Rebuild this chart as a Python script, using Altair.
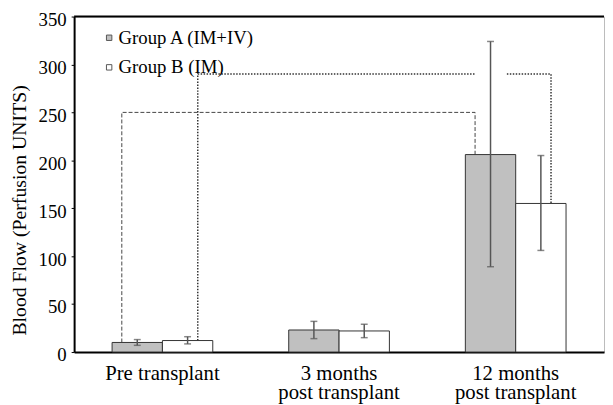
import altair as alt
import pandas as pd

categories = ["Pre transplant", "3 months|post transplant", "12 months|post transplant"]
groups = ["Group A (IM+IV)", "Group B (IM)"]
group_a_mean = [10, 23, 206]
group_a_lo = [7, 14, 89]
group_a_hi = [13, 32, 324]
group_b_mean = [12, 22, 155]
group_b_lo = [8.5, 15, 106]
group_b_hi = [16, 29, 205]

# bracket annotations (x in category units, 0..3 across the plot; y in data units)
dash_x = [0.27, 0.27, 2.27, 2.27]
dash_y = [10, 250, 250, 206]
dot_seg = [1, 1, 1, 2, 2, 2]
dot_x = [0.70, 0.70, 2.27, 2.45, 2.70, 2.70]
dot_y = [12, 290, 290, 290, 290, 155]

rows = []
for i, c in enumerate(categories):
    rows.append(dict(cat=c, group=groups[0], mean=group_a_mean[i], lo=group_a_lo[i], hi=group_a_hi[i]))
    rows.append(dict(cat=c, group=groups[1], mean=group_b_mean[i], lo=group_b_lo[i], hi=group_b_hi[i]))
df = pd.DataFrame(rows)

dash_df = pd.DataFrame(dict(x=dash_x, y=dash_y, o=list(range(len(dash_x)))))
dot_df = pd.DataFrame(dict(x=dot_x, y=dot_y, seg=dot_seg, o=list(range(len(dot_x)))))

FONT = "Liberation Serif"

xenc = alt.X("cat:N", sort=categories, title=None,
             scale=alt.Scale(paddingInner=0.43, paddingOuter=0.215),
             axis=alt.Axis(labelExpr="split(datum.label, '|')", labelAngle=0,
                           labelFontSize=21, labelColor="black",
                           labelPadding=11, labelLineHeight=19, ticks=False,
                           domainColor="black", domainWidth=2))
xoff = alt.XOffset("group:N", sort=groups)
yscale = alt.Scale(domain=[0, 350], nice=False)

base = alt.Chart(df)

bars = base.mark_bar(stroke="#333", strokeWidth=1).encode(
    x=xenc, xOffset=xoff,
    y=alt.Y("mean:Q", scale=yscale, title="Blood Flow (Perfusion UNITS)",
            axis=alt.Axis(values=[0, 50, 100, 150, 200, 250, 300, 350], grid=False,
                          labelFontSize=19, labelColor="black",
                          labelPadding=5, labelOffset=3,
                          titleFontSize=20, titleFontWeight="normal",
                          titleColor="black", titleX=-55, titleY=196,
                          titleBaseline="middle", titleAlign="center", titleAngle=270,
                          tickSize=3, tickColor="black", domainColor="black", domainWidth=2)),
    color=alt.Color("group:N", scale=alt.Scale(domain=groups, range=["#c0c0c0", "white"]),
                    legend=alt.Legend(title=None, orient="none", legendX=26, legendY=12,
                                      symbolType="square", symbolSize=30,
                                      symbolStrokeColor="#555", symbolStrokeWidth=1,
                                      labelFontSize=19, labelColor="black",
                                      rowPadding=10, labelOffset=0, padding=0)),
)

err = base.mark_rule(color="#555", strokeWidth=1.5).encode(
    x=alt.X("cat:N", sort=categories), xOffset=xoff,
    y=alt.Y("lo:Q", scale=yscale), y2="hi:Q")
cap_lo = base.mark_tick(color="#555", size=7, thickness=1.5).encode(
    x=alt.X("cat:N", sort=categories), xOffset=xoff, y=alt.Y("lo:Q", scale=yscale))
cap_hi = base.mark_tick(color="#555", size=7, thickness=1.5).encode(
    x=alt.X("cat:N", sort=categories), xOffset=xoff, y=alt.Y("hi:Q", scale=yscale))

top_border = alt.Chart(pd.DataFrame({"v": [350]})).mark_rule(color="black", strokeWidth=2).encode(
    y=alt.Y("v:Q", scale=yscale))

main = alt.layer(bars, err, cap_lo, cap_hi, top_border)

qx = alt.Scale(domain=[0, 3], nice=False, zero=False)
dash_line = alt.Chart(dash_df).mark_line(color="#444", strokeWidth=1, strokeDash=[4, 2]).encode(
    x=alt.X("x:Q", scale=qx, axis=None), y=alt.Y("y:Q", scale=yscale), order="o:Q")
dot_line = alt.Chart(dot_df).mark_line(color="#333", strokeWidth=1.5, strokeDash=[1.5, 1.5]).encode(
    x=alt.X("x:Q", scale=qx, axis=None), y=alt.Y("y:Q", scale=yscale), order="o:Q",
    detail="seg:N")
brackets = alt.layer(dash_line, dot_line)

chart = alt.layer(brackets, main).resolve_scale(x="independent").properties(
    width=537, height=340,
    autosize=alt.AutoSizeParams(type="none"),
    padding={"left": 67, "top": 6, "right": 1, "bottom": 50},
).configure(font=FONT).configure_view(stroke="#bbb", strokeWidth=1)

chart.save("out.html", embed_options={"renderer": "svg", "actions": False})
